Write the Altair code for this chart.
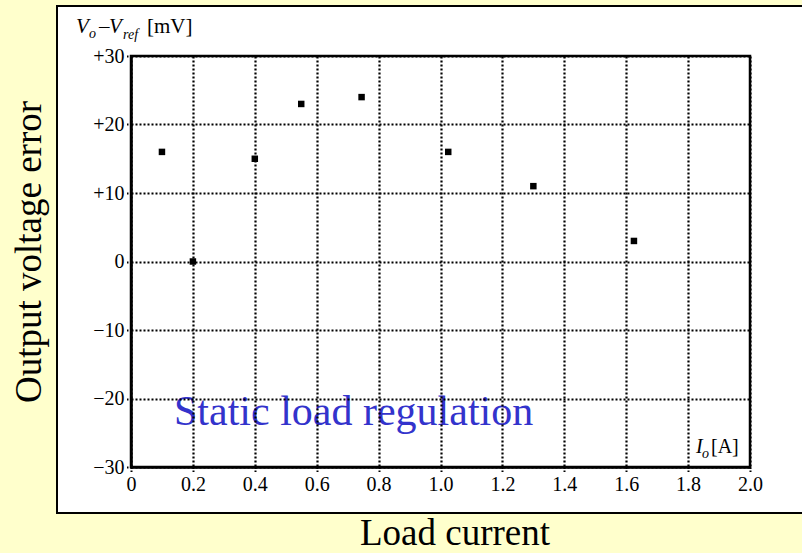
import altair as alt
import pandas as pd

# ---- data ----
load_current = [0.10, 0.20, 0.40, 0.55, 0.745, 1.025, 1.30, 1.625]   # Io [A]
voltage_error = [16, 0, 15, 23, 24, 16, 11, 3]                       # Vo - Vref [mV]
x_ticks = [0.0, 0.2, 0.4, 0.6, 0.8, 1.0, 1.2, 1.4, 1.6, 1.8, 2.0]
y_ticks = [-30, -20, -10, 0, 10, 20, 30]

annotation = "Static load regulation"
y_title = "Output voltage error"
x_title = "Load current"

# ---- layout ----
W, H = 619, 411
L, T = 131, 56
SERIF = "Liberation Serif"

df = pd.DataFrame({"I": load_current, "dV": voltage_error})


def px(x):
    return x - L


def py(y):
    return y - T


def label(text, x, y, size, color="black", style="normal", align="left",
          angle=0, baseline="alphabetic"):
    kw = dict(font=SERIF, fontSize=size, fontStyle=style, color=color,
              align=align, baseline=baseline)
    if angle:
        kw["angle"] = angle
    return alt.Chart(pd.DataFrame({"t": [text]})).mark_text(**kw).encode(
        text="t:N", x=alt.value(px(x)), y=alt.value(py(y)))


one = pd.DataFrame({"k": [0]})

panel = alt.Chart(one).mark_rect(fill="white", stroke="black", strokeWidth=2).encode(
    x=alt.value(px(57)), x2=alt.value(px(812)),
    y=alt.value(py(6)), y2=alt.value(py(513)))

frame = alt.Chart(one).mark_rect(filled=False, stroke="black", strokeWidth=2.5).encode(
    x=alt.value(0), x2=alt.value(W), y=alt.value(0), y2=alt.value(H))

common_axis = dict(
    title=None, grid=True, gridColor="black", gridDash=[2, 2], gridWidth=2.2,
    gridOpacity=1, domainColor="black", domainWidth=2.5, tickColor="black",
    tickSize=5, tickWidth=2, tickDash=[1.5, 1.5], labelFont=SERIF,
    labelFontSize=20, labelColor="black", labelPadding=2, zindex=1,
    labelFlush=False, labelOverlap=False)

xaxis = alt.Axis(values=x_ticks,
                 labelExpr="datum.value == 0 ? '0' : format(datum.value, '.1f')",
                 **common_axis)
yaxis = alt.Axis(values=y_ticks,
                 labelExpr="datum.value > 0 ? '+' + datum.value : (datum.value < 0 ? '\u2212' + abs(datum.value) : '0')",
                 **common_axis)

points = alt.Chart(df).mark_point(shape="square", filled=True, size=42,
                                  color="black", opacity=1).encode(
    x=alt.X("I:Q", scale=alt.Scale(domain=[0, 2], nice=False, zero=False), axis=xaxis),
    y=alt.Y("dV:Q", scale=alt.Scale(domain=[-30, 30], nice=False), axis=yaxis))

layers = [
    panel,
    label(annotation, 174, 425, 42, color="#3333CC"),
    frame,
    points,
    # Vo - Vref [mV]
    label("V", 76, 33, 21, style="italic"),
    label("o", 89, 38, 14, style="italic"),
    label("\u2013", 99, 33, 21),
    label("V", 109, 33, 21, style="italic"),
    label("ref", 123, 39, 14, style="italic"),
    label("[mV]", 147, 33, 21),
    # Io [A]
    label("I", 696, 453, 20, style="italic"),
    label("o", 702, 458, 14, style="italic"),
    label("[A]", 711, 453, 20),
    # outer titles
    label(y_title, 30, 252, 37, align="center", angle=270, baseline="middle"),
    label(x_title, 455, 545, 37, align="center"),
]

chart = alt.layer(*layers).properties(
    width=W, height=H,
    padding={"left": L, "top": T, "right": 802 - L - W, "bottom": 553 - T - H},
    autosize="none",
    background="#FFFFCC",
).configure_view(strokeWidth=0)

chart.save("out.html", embed_options={"renderer": "svg", "actions": False})
